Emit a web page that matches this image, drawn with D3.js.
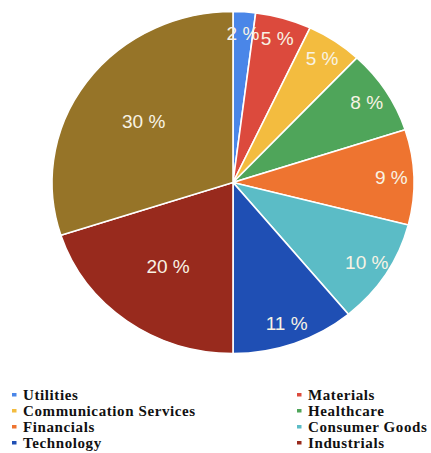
<!DOCTYPE html>
<html>
<head>
<meta charset="utf-8">
<script src="https://cdn.jsdelivr.net/npm/d3@7"></script>
<style>
  html, body { margin: 0; padding: 0; background: #ffffff; }
  svg { display: block; }
</style>
</head>
<body>
<svg id="chart" width="431" height="453"></svg>
<script>
// Sector shares of the portfolio, clockwise from 12 o'clock
const sectors = ["Utilities", "Materials", "Communication Services", "Healthcare",
                 "Financials", "Consumer Goods", "Technology", "Industrials", "Other"];
const shares = [2, 5, 5, 8, 9, 10, 11, 20, 30];
const colors = ["#4a86e8", "#dc4a3d", "#f3bc3f", "#4fa55a", "#ee7430",
                "#5bbcc6", "#1f4fb4", "#982a1d", "#967428"];
// Legend entries (two columns, read row by row)
const legendItems = ["Utilities", "Materials", "Communication Services", "Healthcare",
                     "Financials", "Consumer Goods", "Technology", "Industrials"];

const svg = d3.select("#chart");
const cx = 233, cy = 182.5;
const ry = 171, rx = 181;          // pie is drawn slightly wider than tall
const sx = rx / ry;

const data = sectors.map((s, i) => ({ sector: s, value: shares[i], color: colors[i] }));
const pie = d3.pie().value(d => d.value).sort(null);
const arcs = pie(data);
const arc = d3.arc().innerRadius(0).outerRadius(ry);

const g = svg.append("g").attr("transform", `translate(${cx},${cy}) scale(${sx},1)`);
g.selectAll("path")
  .data(arcs)
  .join("path")
  .attr("d", arc)
  .attr("fill", d => d.data.color)
  .attr("stroke", "#ffffff")
  .attr("stroke-width", 1.6)
  .attr("vector-effect", "non-scaling-stroke");

// Percentage labels: large slices get their label nearer the centre
const labelPos = d => {
  const a = (d.startAngle + d.endAngle) / 2;
  const f = d.data.value >= 15 ? 0.61 : 0.875;
  return [Math.sin(a) * rx * f, -Math.cos(a) * ry * f];
};
const labels = svg.append("g").attr("transform", `translate(${cx},${cy})`);
labels.selectAll("text")
  .data(arcs)
  .join("text")
  .attr("x", d => labelPos(d)[0])
  .attr("y", d => labelPos(d)[1])
  .attr("text-anchor", "middle")
  .attr("dominant-baseline", "central")
  .attr("font-family", "'Liberation Sans', Arial, sans-serif")
  .attr("font-size", 19)
  .attr("fill", "#f8f3e4")
  .text(d => `${d.data.value} %`);

// Legend
const colorOf = d3.scaleOrdinal().domain(sectors).range(colors);
const legend = svg.append("g");
const cols = [12, 297];
legendItems.forEach((name, i) => {
  const col = i % 2, row = Math.floor(i / 2);
  const x = cols[col], y = 400 + row * 16;
  legend.append("rect")
    .attr("x", x).attr("y", y - 7)
    .attr("width", 4.5).attr("height", 3.5)
    .attr("fill", colorOf(name));
  legend.append("text")
    .attr("x", x + 11).attr("y", y)
    .attr("font-family", "'Liberation Serif', 'Times New Roman', serif")
    .attr("font-weight", "bold")
    .attr("font-size", 15)
    .attr("letter-spacing", 0.6)
    .attr("fill", "#111111")
    .text(name);
});
</script>
</body>
</html>
